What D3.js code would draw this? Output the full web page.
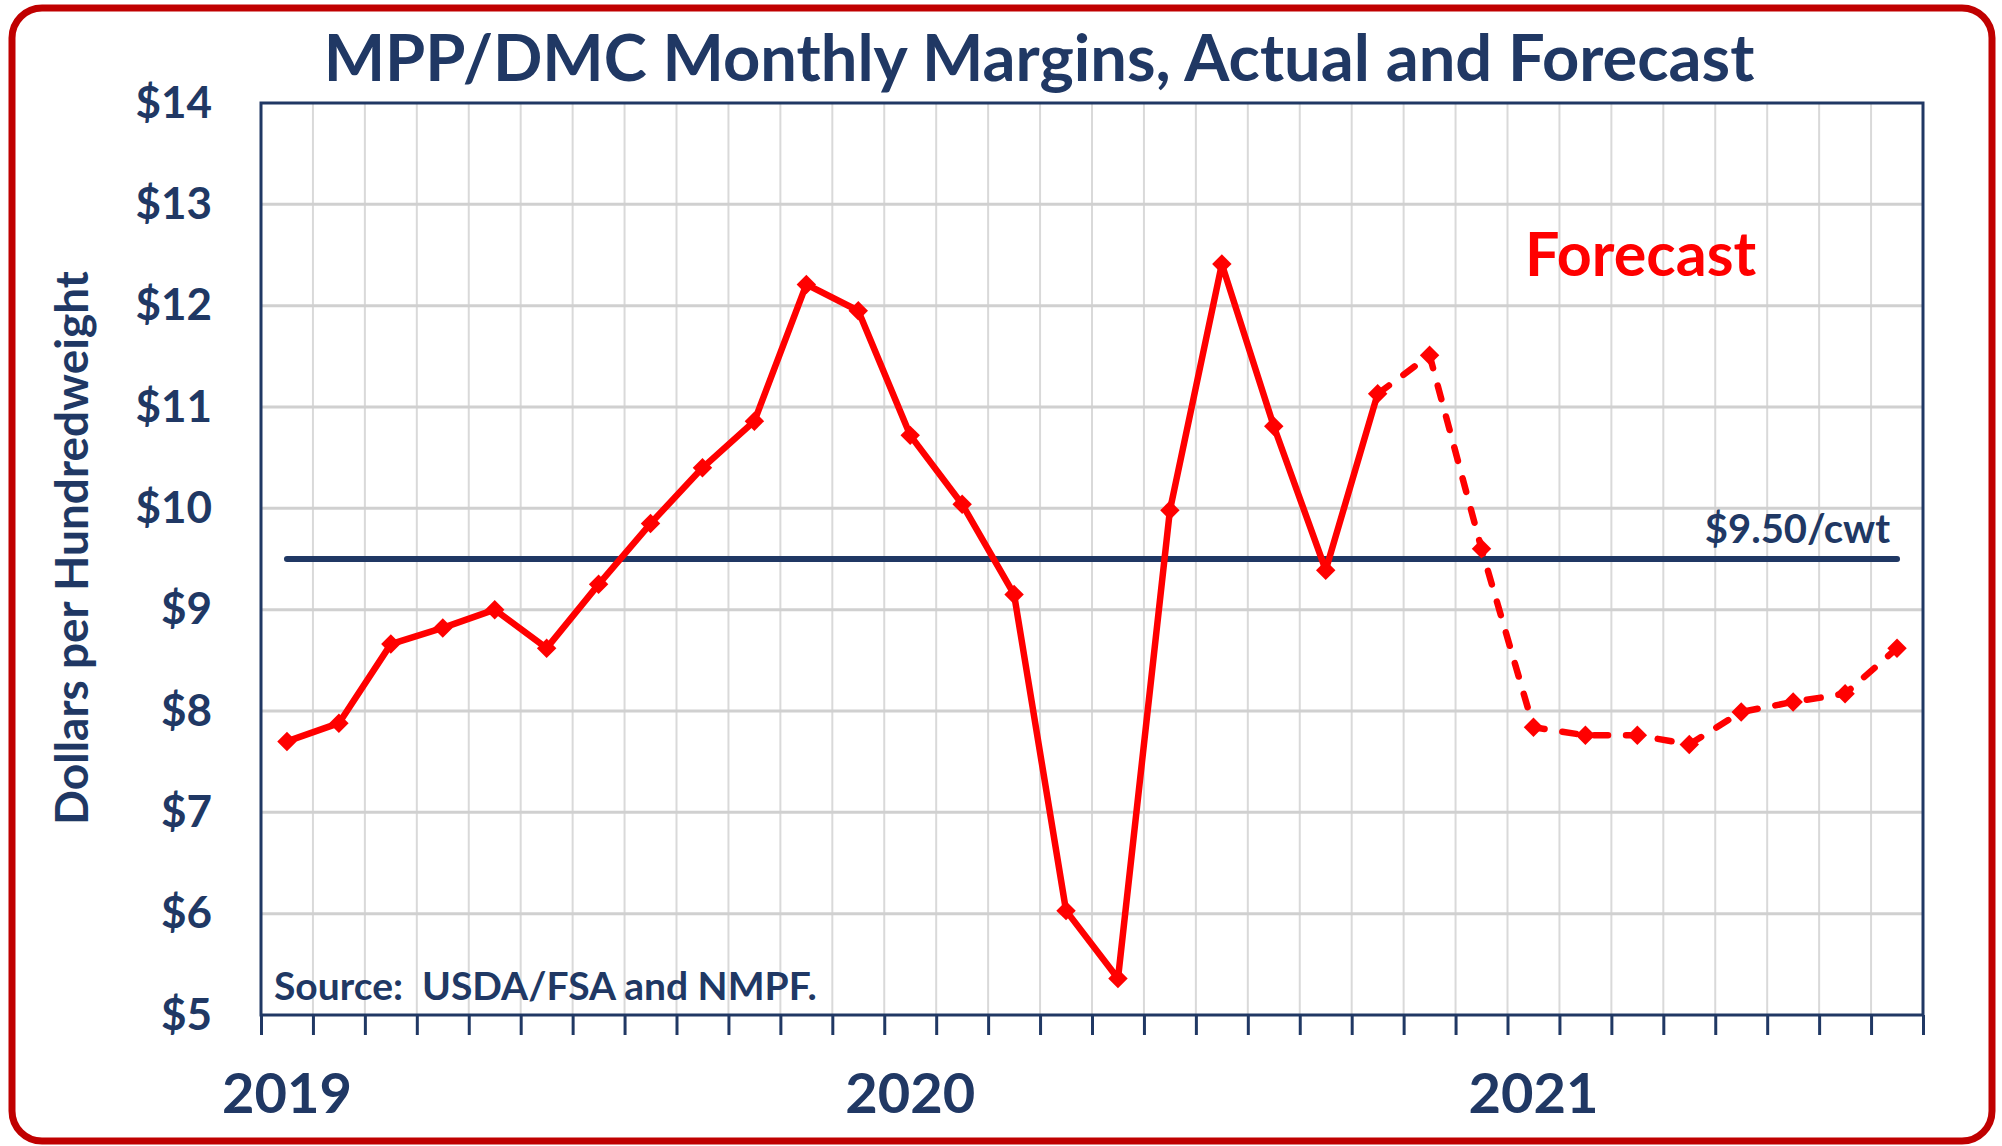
<!DOCTYPE html>
<html>
<head>
<meta charset="utf-8">
<script src="https://cdn.jsdelivr.net/npm/d3@7"></script>
<style>
  body { margin: 0; background: #ffffff; }
  text { font-family: Lato, "Open Sans", sans-serif; font-weight: 700; }
</style>
</head>
<body>
<svg id="chart" width="2002" height="1146"></svg>
<script>
// months on the x axis (Jan 2019 - Aug 2021)
const months = [
  "Jan 2019", "Feb 2019", "Mar 2019", "Apr 2019", "May 2019", "Jun 2019",
  "Jul 2019", "Aug 2019", "Sep 2019", "Oct 2019", "Nov 2019", "Dec 2019",
  "Jan 2020", "Feb 2020", "Mar 2020", "Apr 2020", "May 2020", "Jun 2020",
  "Jul 2020", "Aug 2020", "Sep 2020", "Oct 2020", "Nov 2020", "Dec 2020",
  "Jan 2021", "Feb 2021", "Mar 2021", "Apr 2021", "May 2021", "Jun 2021",
  "Jul 2021", "Aug 2021"
]

// actual margins, Jan 2019 - Oct 2020 ($/cwt)
const actualMonths = months.slice(0, 22)
const actualMargin = [
  7.70, 7.88, 8.66, 8.82, 9.00, 8.62, 9.25, 9.85, 10.40, 10.86, 12.21, 11.95,
  10.72, 10.04, 9.15, 6.03, 5.36, 9.98, 12.41, 10.81, 9.39, 11.13
]

// forecast margins, Oct 2020 - Aug 2021 ($/cwt)
const forecastMonths = months.slice(21)
const forecastMargin = [11.13, 11.51, 9.60, 7.84, 7.76, 7.76, 7.67, 7.99, 8.09, 8.17, 8.62]

const yTicks = [5, 6, 7, 8, 9, 10, 11, 12, 13, 14]
const yearLabels = ["2019", "2020", "2021"]
const yearMonths = ["Jan 2019", "Jan 2020", "Jan 2021"]
const coverageLevel = 9.5

const navy = "#203864"
const red = "#ff0000"

const svg = d3.select("#chart")

// red rounded frame
svg.append("rect")
  .attr("x", 12).attr("y", 8)
  .attr("width", 1980).attr("height", 1133)
  .attr("rx", 30)
  .style("fill", "#ffffff")
  .style("stroke", "#c00000")
  .style("stroke-width", 7)

const plot = { left: 261, right: 1923, top: 103, bottom: 1015 }

const x = d3.scaleBand().domain(months).range([plot.left, plot.right])
const xEdge = d3.scaleLinear().domain([0, months.length]).range([plot.left, plot.right])
const y = d3.scaleLinear().domain([5, 14]).range([plot.bottom, plot.top])
const cx = m => x(m) + x.bandwidth() / 2

// grid
svg.append("g")
  .selectAll("line")
  .data(d3.range(1, months.length))
  .enter().append("line")
  .attr("x1", d => xEdge(d)).attr("x2", d => xEdge(d))
  .attr("y1", plot.top).attr("y2", plot.bottom)
  .style("stroke", "#d9d9d9")
  .style("stroke-width", 2)

svg.append("g")
  .selectAll("line")
  .data(yTicks.slice(1, -1))
  .enter().append("line")
  .attr("x1", plot.left).attr("x2", plot.right)
  .attr("y1", d => y(d)).attr("y2", d => y(d))
  .style("stroke", "#d0d0d0")
  .style("stroke-width", 3)

// box round the plot
svg.append("rect")
  .attr("x", plot.left).attr("y", plot.top)
  .attr("width", plot.right - plot.left).attr("height", plot.bottom - plot.top)
  .style("fill", "none")
  .style("stroke", navy)
  .style("stroke-width", 3)

// bottom ticks at month boundaries
const xAxis = svg.append("g")
  .attr("transform", `translate(0,${plot.bottom})`)
  .call(d3.axisBottom(xEdge).tickValues(d3.range(0, months.length + 1)).tickFormat("").tickSizeInner(20).tickSizeOuter(0))
xAxis.select(".domain").remove()
xAxis.selectAll("line").style("stroke", navy).style("stroke-width", 3)

// y labels
const yAxis = svg.append("g")
  .attr("transform", `translate(${plot.left},0)`)
  .call(d3.axisLeft(y).tickValues(yTicks).tickFormat(d => "$" + d).tickSize(0).tickPadding(49))
yAxis.select(".domain").remove()
yAxis.selectAll("text")
  .style("font-size", "44px")
  .style("font-family", "Lato, sans-serif")
  .style("font-weight", 700)
  .style("fill", navy)

// year labels
svg.append("g")
  .selectAll("text")
  .data(yearLabels)
  .enter().append("text")
  .attr("x", (d, i) => cx(yearMonths[i]))
  .attr("y", 1113)
  .attr("text-anchor", "middle")
  .style("font-size", "56px")
  .style("fill", navy)
  .text(d => d)

// $9.50 line
svg.append("line")
  .attr("x1", cx(months[0])).attr("x2", cx(months[months.length - 1]))
  .attr("y1", y(coverageLevel)).attr("y2", y(coverageLevel))
  .style("stroke", navy)
  .style("stroke-width", 6)
  .style("stroke-linecap", "round")

svg.append("text")
  .attr("x", cx(months[months.length - 1]) - 7)
  .attr("y", y(coverageLevel) - 16)
  .attr("text-anchor", "end")
  .style("font-size", "40px")
  .style("fill", navy)
  .text("$9.50/cwt")

const line = d3.line().x(d => cx(d[0])).y(d => y(d[1]))
const actual = actualMonths.map((m, i) => [m, actualMargin[i]])
const forecast = forecastMonths.map((m, i) => [m, forecastMargin[i]])

svg.append("path")
  .datum(forecast)
  .attr("d", line)
  .style("fill", "none")
  .style("stroke", red)
  .style("stroke-width", 6.5)
  .style("stroke-dasharray", "14,18")
  .style("stroke-linecap", "round")

svg.append("path")
  .datum(actual)
  .attr("d", line)
  .style("fill", "none")
  .style("stroke", red)
  .style("stroke-width", 6.5)
  .style("stroke-linejoin", "round")

// diamond markers
const diamond = d3.symbol(d3.symbolSquare, 190)
svg.append("g")
  .selectAll("path")
  .data(actual.concat(forecast.slice(1)))
  .enter().append("path")
  .attr("d", diamond)
  .attr("transform", d => `translate(${cx(d[0])},${y(d[1])}) rotate(45)`)
  .style("fill", red)

// annotations
svg.append("text")
  .attr("x", 1525).attr("y", 276)
  .style("font-size", "61px")
  .style("fill", red)
  .text("Forecast")

svg.append("text")
  .attr("x", 274).attr("y", 1000)
  .style("font-size", "39px")
  .style("fill", navy)
  .style("white-space", "pre")
  .text("Source:  USDA/FSA and NMPF.")

svg.append("text")
  .attr("x", 1039).attr("y", 81)
  .attr("text-anchor", "middle")
  .style("font-size", "65px")
  .style("fill", navy)
  .text("MPP/DMC Monthly Margins, Actual and Forecast")

svg.append("text")
  .attr("transform", "translate(70,548) rotate(-90)")
  .attr("text-anchor", "middle")
  .attr("dominant-baseline", "central")
  .style("font-size", "46px")
  .style("fill", navy)
  .text("Dollars per Hundredweight")
</script>
</body>
</html>
